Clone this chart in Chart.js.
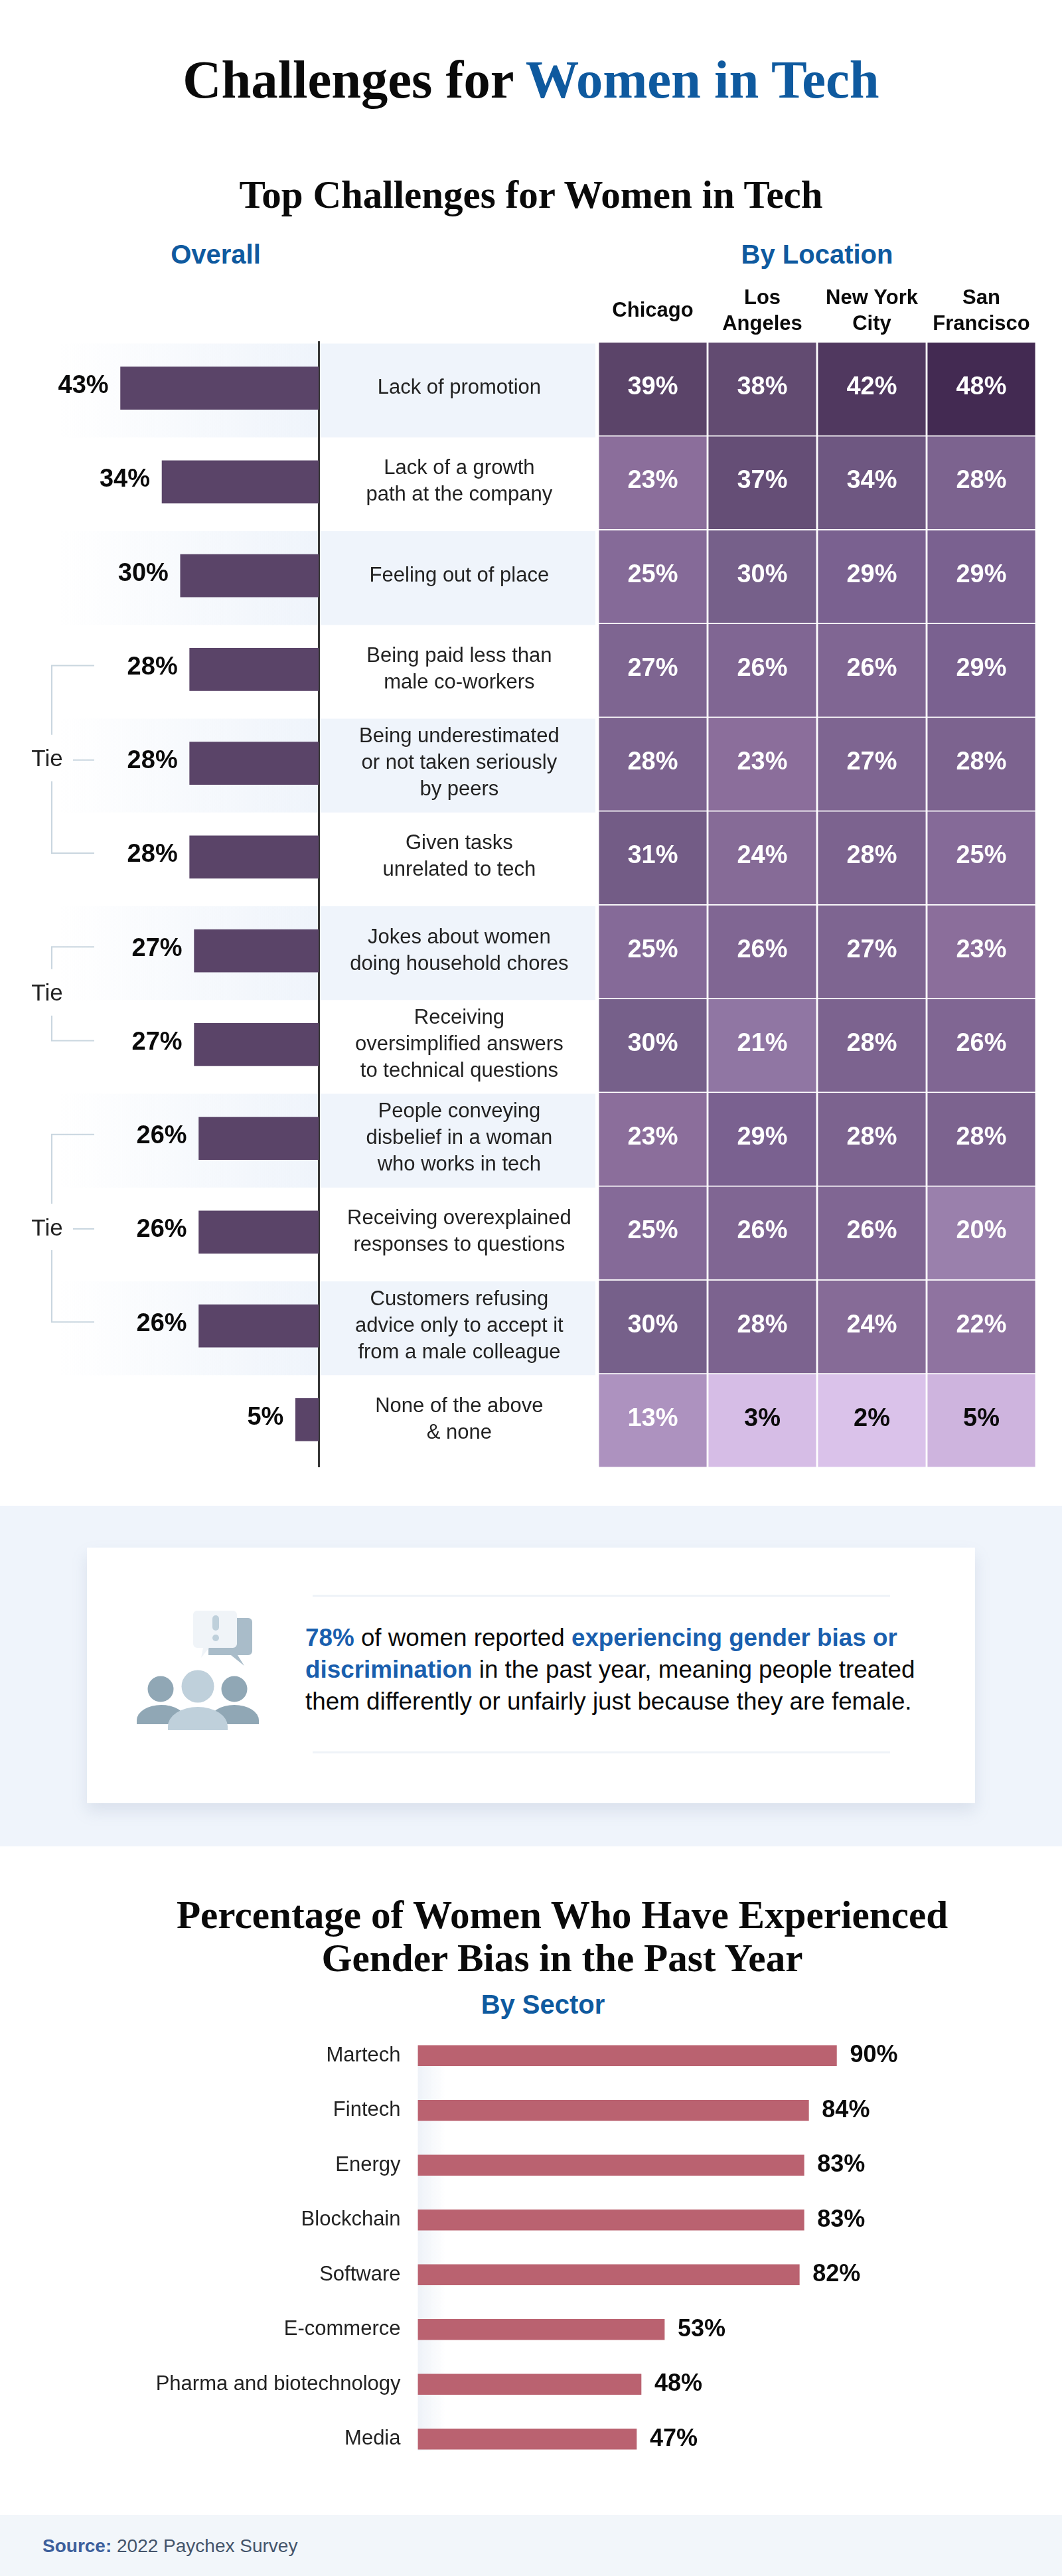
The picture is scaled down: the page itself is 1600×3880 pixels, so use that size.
<!DOCTYPE html>
<html>
<head>
<meta charset="utf-8">
<title>Challenges for Women in Tech</title>
<script src="https://cdn.jsdelivr.net/npm/chart.js@4"></script>
<style>
  html, body { margin: 0; padding: 0; background: #fff; }
  body { position: relative; width: 1600px; height: 3880px; overflow: hidden; font-family: "Liberation Sans", Arial, sans-serif; }
  .abs { position: absolute; }
  canvas { position: absolute; display: block; }
  .serif { font-family: "Liberation Serif", serif; font-weight: bold; color: #0a0a0a; text-align: center; left: 0; width: 1600px; }
  .blue { color: #0f5a9f; }
  .head { font-weight: bold; font-size: 40px; line-height: 50px; text-align: center; }
  #callout { left: 0; top: 2268px; width: 1600px; height: 513px; background: #eff4fb; }
  #card { left: 131px; top: 2331px; width: 1338px; height: 385px; background: #fff; box-shadow: 0 12px 22px rgba(120,140,170,.18); }
  .rule { left: 471px; width: 870px; height: 3px; background: #eff3f8; }
  #note { left: 460px; top: 2443px; width: 960px; font-size: 36.8px; line-height: 48px; color: #0a0a0a; white-space: nowrap; }
  #note b { color: #1a5fae; }
  #footer { left: 0; top: 3788px; width: 1600px; height: 92px; background: #f2f6fa; }
  #source { left: 64px; top: 3818px; font-size: 28px; line-height: 34px; color: #44546a; white-space: nowrap; }
  #source b { color: #3d5f9c; }
</style>
</head>
<body>
<div class="abs serif" style="top:70px;font-size:80.6px;line-height:100px;">Challenges for <span class="blue">Women in Tech</span></div>
<div class="abs serif" style="top:258px;font-size:59px;line-height:70px;">Top Challenges for Women in Tech</div>
<div class="abs head blue" style="left:225px;width:200px;top:358px;">Overall</div>
<div class="abs head blue" style="left:1081px;width:300px;top:358px;">By Location</div>

<canvas id="overallChart" width="900" height="1700" style="left:0;top:514px"></canvas>
<canvas id="heatChart" width="660" height="1811" style="left:901px;top:400px"></canvas>

<div id="callout" class="abs"></div>
<div id="card" class="abs"></div>
<div class="abs rule" style="top:2402px"></div>
<div class="abs rule" style="top:2638px"></div>
<svg class="abs" style="left:190px;top:2410px" width="220" height="210" viewBox="190 2410 220 210">
  <path d="M314 2437h60a6 6 0 0 1 6 6v44a6 6 0 0 1-6 6h-16l10 16-20-16h-34z" fill="#a9bcc9"/>
  <path d="M297 2426h54a6 6 0 0 1 6 6v44a6 6 0 0 1-6 6h-36l-12 15 3-15h-9a6 6 0 0 1-6-6v-44a6 6 0 0 1 6-6z" fill="#f0f4f8"/>
  <rect x="320" y="2433" width="10" height="23" rx="5" fill="#bfd0db"/>
  <circle cx="325" cy="2467" r="5" fill="#bfd0db"/>
  <circle cx="242" cy="2544" r="19.5" fill="#90a7b5"/>
  <circle cx="353" cy="2544" r="19.5" fill="#90a7b5"/>
  <path d="M206 2597v-6a37 23 0 0 1 74 0v6z" fill="#90a7b5"/>
  <path d="M316 2597v-6a37 23 0 0 1 74 0v6z" fill="#90a7b5"/>
  <circle cx="298" cy="2540" r="24.5" fill="#bfd0db"/>
  <path d="M253 2606v-6a45 29 0 0 1 90 0v6z" fill="#bfd0db"/>
</svg>
<div id="note" class="abs"><b>78%</b> of women reported <b>experiencing gender bias or<br>discrimination</b> in the past year, meaning people treated<br>them differently or unfairly just because they are female.</div>

<div class="abs serif" style="top:2852px;left:47px;font-size:59.2px;line-height:65px;">Percentage of Women Who Have Experienced<br>Gender Bias in the Past Year</div>
<div class="abs head blue" style="left:668px;width:300px;top:2994px;">By Sector</div>
<canvas id="sectorChart" width="1600" height="660" style="left:0;top:3055px"></canvas>

<div id="footer" class="abs"></div>
<div id="source" class="abs"><b>Source:</b> 2022 Paychex Survey</div>

<script>
const challenges = [
  ["Lack of promotion"],
  ["Lack of a growth", "path at the company"],
  ["Feeling out of place"],
  ["Being paid less than", "male co-workers"],
  ["Being underestimated", "or not taken seriously", "by peers"],
  ["Given tasks", "unrelated to tech"],
  ["Jokes about women", "doing household chores"],
  ["Receiving", "oversimplified answers", "to technical questions"],
  ["People conveying", "disbelief in a woman", "who works in tech"],
  ["Receiving overexplained", "responses to questions"],
  ["Customers refusing", "advice only to accept it", "from a male colleague"],
  ["None of the above", "& none"]
];
const overall = [43, 34, 30, 28, 28, 28, 27, 27, 26, 26, 26, 5];

const cities = [["Chicago"], ["Los", "Angeles"], ["New York", "City"], ["San", "Francisco"]];
const chicago = [39, 23, 25, 27, 28, 31, 25, 30, 23, 25, 30, 13];
const losAngeles = [38, 37, 30, 26, 23, 24, 26, 21, 29, 26, 28, 3];
const newYork = [42, 34, 29, 26, 27, 28, 27, 28, 28, 26, 24, 2];
const sanFrancisco = [48, 28, 29, 29, 28, 25, 23, 26, 28, 20, 22, 5];
const byCity = [chicago, losAngeles, newYork, sanFrancisco];

const sectors = ["Martech", "Fintech", "Energy", "Blockchain", "Software", "E-commerce", "Pharma and biotechnology", "Media"];
const sectorValues = [90, 84, 83, 83, 82, 53, 48, 47];

// first and last row of each tie bracket
const tieFrom = [3, 6, 8];
const tieTo = [5, 7, 10];

const heatColors = {
  2: "#dac2ea", 3: "#d6bde6", 5: "#ceb4de", 13: "#ad92bf", 20: "#9a80ac", 21: "#9076a3", 22: "#8f73a0",
  23: "#8b6e9b", 24: "#866b97", 25: "#856a98", 26: "#806693", 27: "#7e6591", 28: "#7c638f", 29: "#7a6190",
  30: "#76608a", 31: "#735c86", 34: "#6e5781", 37: "#654e76", 38: "#624b71", 39: "#5b4469", 42: "#50385f", 48: "#432a52"
};

const FONT = "Liberation Sans";
Chart.defaults.font.family = FONT;
Chart.defaults.animation = false;
Chart.defaults.responsive = false;
Chart.defaults.plugins.legend.display = false;
Chart.defaults.plugins.tooltip.enabled = false;

// tick padding also pads the chart area, so it gets cleared here
function fixWidth(width) {
  return scale => {
    scale.width = width;
    scale.paddingTop = 0;
    scale.paddingBottom = 0;
  };
}

function fixHeight(height) {
  return scale => {
    scale.height = height;
    scale.paddingLeft = 0;
    scale.paddingRight = 0;
  };
}

// Bandas de fondo, corchetes de empate y etiquetas de porcentaje del grafico izquierdo
const overallDecor = {
  id: "overallDecor",
  beforeDraw(chart) {
    const { ctx, scales: { y }, chartArea } = chart;
    const h = y.getPixelForValue(1) - y.getPixelForValue(0);
    challenges.forEach((c, i) => {
      if (i % 2 || i === challenges.length - 1) return;
      const top = y.getPixelForValue(i) - h / 2 + 3.5;
      const g = ctx.createLinearGradient(90, 0, chartArea.right, 0);
      g.addColorStop(0, "rgba(239,244,251,0)");
      g.addColorStop(1, "#eff4fb");
      ctx.fillStyle = g;
      ctx.fillRect(90, top, chartArea.right - 90, h);
      ctx.fillStyle = "#eff4fb";
      ctx.fillRect(chartArea.right + 2, top, 897 - chartArea.right - 2, h);
    });
  },
  afterDatasetsDraw(chart) {
    const { ctx, scales: { y } } = chart;
    ctx.save();
    ctx.font = "bold 38px " + FONT;
    ctx.fillStyle = "#0a0a0a";
    ctx.textAlign = "right";
    ctx.textBaseline = "middle";
    chart.getDatasetMeta(0).data.forEach((bar, i) => {
      ctx.fillText(overall[i] + "%", bar.x - 18, bar.y - 3);
    });
    // corchetes
    ctx.font = "35px " + FONT;
    ctx.fillStyle = "#222";
    ctx.textAlign = "center";
    ctx.strokeStyle = "#c9d6df";
    ctx.lineWidth = 2;
    tieFrom.forEach((from, k) => {
      const y1 = y.getPixelForValue(from) - 6;
      const y2 = y.getPixelForValue(tieTo[k]) - 6;
      const mid = (y1 + y2) / 2 + 1;
      ctx.beginPath();
      ctx.moveTo(142, y1); ctx.lineTo(78, y1); ctx.lineTo(78, mid - 38);
      ctx.moveTo(78, mid + 32); ctx.lineTo(78, y2); ctx.lineTo(142, y2);
      if ((tieTo[k] - from) % 2 === 0) { ctx.moveTo(110, mid); ctx.lineTo(142, mid); }
      ctx.stroke();
      ctx.fillText("Tie", 71, mid);
    });
    ctx.restore();
  }
};

new Chart(document.getElementById("overallChart"), {
  type: "bar",
  data: {
    labels: challenges,
    datasets: [{ data: overall, backgroundColor: "#5a4468", barThickness: 64 }]
  },
  options: {
    indexAxis: "y",
    layout: { padding: { bottom: 5 } },
    scales: {
      x: { display: false, reverse: true, min: 0, max: 480 / 6.94 },
      y: {
        position: "right",
        afterFit: fixWidth(420),
        grid: { display: false, drawTicks: false },
        border: { display: true, color: "#383838", width: 3 },
        ticks: {
          autoSkip: false, crossAlign: "center", padding: 43, color: "#222",
          font: { size: 31, lineHeight: 1.29 }
        }
      }
    }
  },
  plugins: [overallDecor]
});

const heatLabels = {
  id: "heatLabels",
  afterDatasetsDraw(chart) {
    const { ctx } = chart;
    ctx.save();
    ctx.font = "bold 38px " + FONT;
    ctx.textAlign = "center";
    ctx.textBaseline = "middle";
    challenges.forEach((c, row) => {
      chart.getDatasetMeta(row).data.forEach((cell, col) => {
        const v = byCity[col][row];
        ctx.fillStyle = v < 10 ? "#0a0a0a" : "#fff";
        ctx.fillText(v + "%", cell.x, (cell.y + cell.base) / 2 - 3);
      });
    });
    ctx.restore();
  }
};

new Chart(document.getElementById("heatChart"), {
  type: "bar",
  data: {
    labels: cities,
    datasets: challenges.map((c, row) => ({
      data: byCity.map(() => [row, row + 1]),
      backgroundColor: byCity.map(city => heatColors[city[row]]),
      borderColor: "#fff",
      borderWidth: 1.75,
      grouped: false,
      barPercentage: 1,
      categoryPercentage: 1
    }))
  },
  options: {
    layout: { padding: 0 },
    scales: {
      x: {
        position: "top",
        afterFit: fixHeight(116),
        grid: { display: false, drawTicks: false },
        border: { display: false },
        ticks: {
          autoSkip: false, maxRotation: 0, crossAlign: "center", padding: 28, color: "#0a0a0a",
          font: { size: 31, weight: "bold", lineHeight: 1.24 }
        }
      },
      y: { display: false, reverse: true, min: 0, max: challenges.length }
    }
  },
  plugins: [heatLabels]
});

const sectorDecor = {
  id: "sectorDecor",
  beforeDraw(chart) {
    const { ctx, chartArea } = chart;
    const g = ctx.createLinearGradient(chartArea.left, 0, chartArea.left + 42, 0);
    g.addColorStop(0, "#eef2f8");
    g.addColorStop(1, "rgba(238,242,248,0)");
    ctx.fillStyle = g;
    ctx.fillRect(chartArea.left, chartArea.top + 26, 42, chartArea.height - 50);
  },
  afterDatasetsDraw(chart) {
    const { ctx } = chart;
    ctx.save();
    ctx.font = "bold 36px " + FONT;
    ctx.fillStyle = "#0a0a0a";
    ctx.textAlign = "left";
    ctx.textBaseline = "middle";
    chart.getDatasetMeta(0).data.forEach((bar, i) => {
      ctx.fillText(sectorValues[i] + "%", bar.x + 20, bar.y);
    });
    ctx.restore();
  }
};

new Chart(document.getElementById("sectorChart"), {
  type: "bar",
  data: {
    labels: sectors,
    datasets: [{ data: sectorValues, backgroundColor: "#ba6270", barThickness: 31 }]
  },
  options: {
    indexAxis: "y",
    layout: { padding: 0 },
    scales: {
      x: { display: false, min: 0, max: 970.5 / 7.01 },
      y: {
        afterFit: fixWidth(629.5),
        grid: { display: false, drawTicks: false },
        border: { display: false },
        ticks: { autoSkip: false, padding: 26, color: "#222", font: { size: 31 } }
      }
    }
  },
  plugins: [sectorDecor]
});
</script>
</body>
</html>
